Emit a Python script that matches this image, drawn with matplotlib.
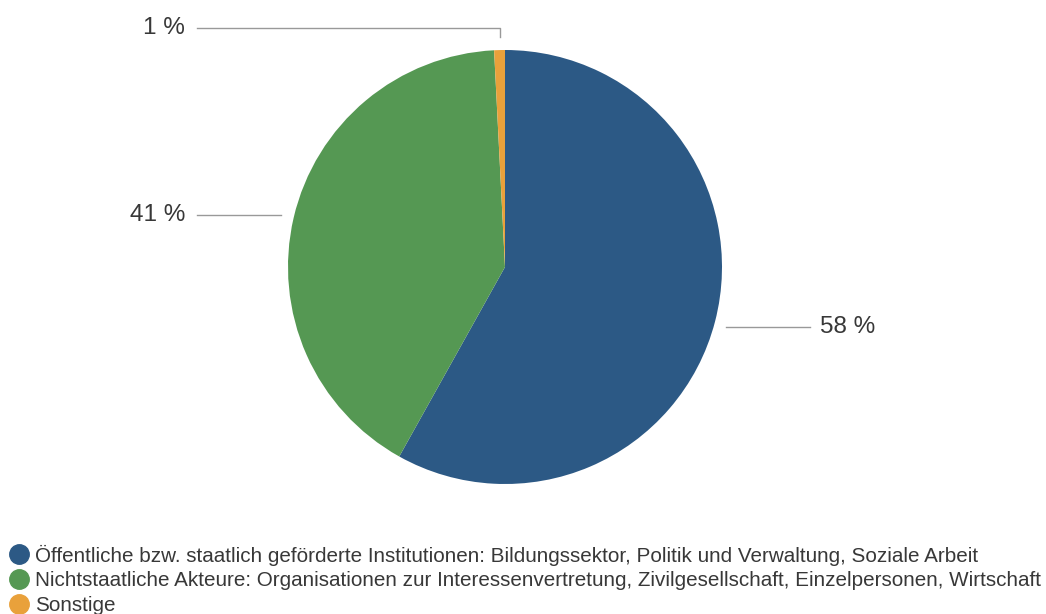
import matplotlib.pyplot as plt
import numpy as np
from matplotlib.lines import Line2D

# DATA
CATEGORIES = [
    "Öffentliche bzw. staatlich geförderte Institutionen: Bildungssektor, Politik und Verwaltung, Soziale Arbeit",
    "Nichtstaatliche Akteure: Organisationen zur Interessenvertretung, Zivilgesellschaft, Einzelpersonen, Wirtschaft",
    "Sonstige",
]
SHARES = [58.1, 41.1, 0.8]
PCT_LABELS = ["58 %", "41 %", "1 %"]
COLORS = ["#2c5985", "#559853", "#e9a13b"]

plt.rcParams['font.family'] = ['Liberation Sans', 'DejaVu Sans']

W, H = 1046, 614
CX, CY, R = 505, 267, 217  # pie centre / radius in pixels

fig = plt.figure(figsize=(W / 100, H / 100), dpi=100)
ax = fig.add_axes([0, 0, 1, 1])

wedges, _ = ax.pie(SHARES, colors=COLORS, startangle=90, counterclock=False,
                   radius=1.0, wedgeprops=dict(linewidth=0))
ax.set_xlim(-CX / R, (W - CX) / R)
ax.set_ylim(-(H - CY) / R, CY / R)
ax.set_aspect('equal')
ax.axis('off')

line_kw = dict(color="#999999", lw=1.0)
text_kw = dict(fontsize=17.5, color="#383838")
for w, lab in zip(wedges, PCT_LABELS):
    mid = np.deg2rad((w.theta1 + w.theta2) / 2)
    c, s = np.cos(mid), np.sin(mid)
    if abs(c) < 0.3:
        # small slice at the top: elbow line
        ax.plot([c, c, -1.42], [1.06, 1.10, 1.10], **line_kw)
        ax.text(-1.475, 1.10, lab, ha='right', va='center', **text_kw)
    elif c > 0:
        y = s * 1.06 - 0.01
        ax.plot([1.02, 1.405], [y, y], **line_kw)
        ax.text(1.45, y, lab, ha='left', va='center', **text_kw)
    else:
        y = s * 1.0 + 0.01
        ax.plot([-1.03, -1.42], [y, y], **line_kw)
        ax.text(-1.475, y, lab, ha='right', va='center', **text_kw)

handles = [Line2D([], [], marker='o', linestyle='none', markersize=14,
                  markerfacecolor=col, markeredgecolor=col) for col in COLORS]
fig.legend(handles, CATEGORIES, loc='lower left', bbox_to_anchor=(-0.004, -0.022),
           frameon=False, fontsize=14.9, handletextpad=0.3, labelspacing=0.28,
           borderaxespad=0.2, handlelength=1.0, labelcolor="#383838")

fig.savefig("out.png", dpi=100)
